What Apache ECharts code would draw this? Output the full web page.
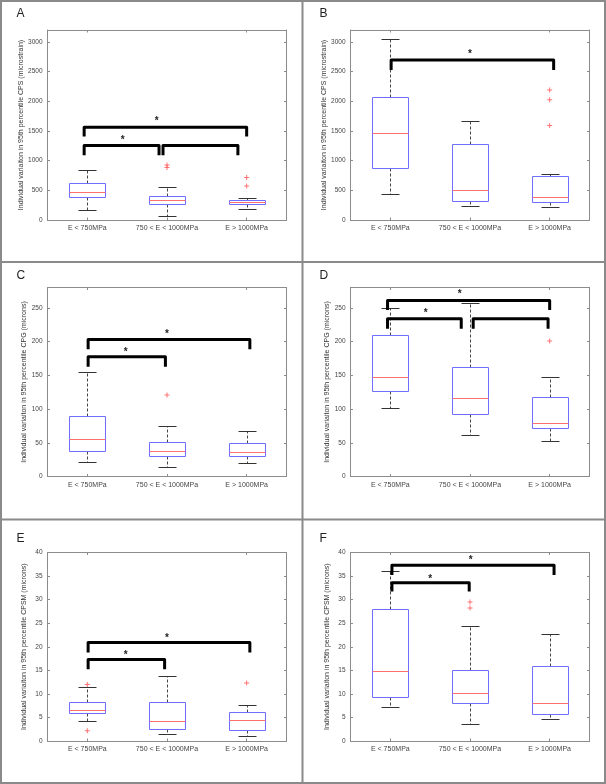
<!DOCTYPE html>
<html>
<head>
<meta charset="utf-8">
<script src="https://cdn.jsdelivr.net/npm/echarts@6.0.0/dist/echarts.min.js"></script>
<style>
  html, body { margin: 0; padding: 0; background: #fff; }
  #chart { width: 606px; height: 784px; }
</style>
</head>
<body>
<div id="chart"></div>
<script>
const categories = ['E < 750MPa', '750 < E < 1000MPa', 'E > 1000MPa'];

// each box: [lower whisker, q1, median, q3, upper whisker]
const boxA = [[163, 388, 478, 630, 838], [68, 265, 338, 400, 551], [180, 276, 310, 343, 377]];
const boxB = [[439, 872, 1469, 2065, 3050], [242, 315, 512, 1272, 1671], [214, 304, 383, 743, 771]];
const boxC = [[21.2, 37.5, 55.7, 90.2, 155.3], [13.8, 31, 38, 51.8, 75.4], [20.2, 31, 37, 49.3, 67.6]];
const boxD = [[101, 127.2, 147.4, 210, 250], [61.1, 93.2, 116.9, 162.2, 256.4], [53.3, 72.5, 78.9, 117.9, 147.4]];
const boxE = [[4.3, 6.0, 6.57, 8.34, 11.4], [1.41, 2.47, 4.17, 8.27, 13.8], [1.13, 2.26, 4.38, 6.15, 7.7]];
const boxF = [[7.2, 9.4, 14.84, 28.1, 36.1], [3.53, 7.99, 10.1, 15.05, 24.3], [4.6, 5.65, 8.06, 15.9, 22.6]];

// outliers: [category index, value]
const outliersA = [[1, 925], [1, 885], [2, 715], [2, 574]];
const outliersB = [[2, 2189], [2, 2026], [2, 1593]];
const outliersC = [[1, 120.8]];
const outliersD = [[2, 200.7]];
const outliersE = [[0, 12.0], [0, 2.2], [2, 12.3]];
const outliersF = [[1, 29.5], [1, 28.2]];

// significance brackets: [from x, to x, bar value, leg end value] (x in category units)
const bracketsA = [[-0.04, 0.9, 1255, 1092], [0.95, 1.89, 1255, 1092], [-0.04, 2.0, 1564, 1407]];
const bracketsB = [[0.01, 2.05, 2696, 2527]];
const bracketsC = [[0.01, 0.98, 177.5, 162.7], [0.01, 2.04, 203, 188.4]];
const bracketsD = [[-0.035, 0.89, 233.7, 219], [1.04, 1.98, 233.7, 219], [-0.035, 2.0, 260.8, 246.5]];
const bracketsE = [[0.01, 0.97, 17.3, 15.2], [0.01, 2.04, 20.9, 18.8]];
const bracketsF = [[0.02, 0.99, 33.6, 31.7], [0.02, 2.055, 37.3, 35.2]];

// asterisks: [x in category units, value]
const starsA = [[0.445, 1384], [0.87, 1700]];
const starsB = [[1.0, 2831]];
const starsC = [[0.48, 187.4], [1.0, 213]];
const starsD = [[0.445, 245], [0.87, 272.7]];
const starsE = [[0.48, 18.6], [1.0, 22.3]];
const starsF = [[0.5, 34.8], [1.01, 38.7]];

const yMaxCPS = 3200, yStepCPS = 500;
const yMaxCPG = 280, yStepCPG = 50;
const yMaxCPSM = 40, yStepCPSM = 5;

const nameCPS = 'Individual variaiton in 95th percentile CPS (microstrain)';
const nameCPG = 'Individual variaiton in 95th percentile CPG (microns)';
const nameCPSM = 'Individual variaiton in 95th percentile CPSM (microns)';

const panels = [
  { letter: 'A', box: boxA, outliers: outliersA, brackets: bracketsA, stars: starsA, yMax: yMaxCPS, yStep: yStepCPS, yName: nameCPS },
  { letter: 'B', box: boxB, outliers: outliersB, brackets: bracketsB, stars: starsB, yMax: yMaxCPS, yStep: yStepCPS, yName: nameCPS },
  { letter: 'C', box: boxC, outliers: outliersC, brackets: bracketsC, stars: starsC, yMax: yMaxCPG, yStep: yStepCPG, yName: nameCPG },
  { letter: 'D', box: boxD, outliers: outliersD, brackets: bracketsD, stars: starsD, yMax: yMaxCPG, yStep: yStepCPG, yName: nameCPG },
  { letter: 'E', box: boxE, outliers: outliersE, brackets: bracketsE, stars: starsE, yMax: yMaxCPSM, yStep: yStepCPSM, yName: nameCPSM },
  { letter: 'F', box: boxF, outliers: outliersF, brackets: bracketsF, stars: starsF, yMax: yMaxCPSM, yStep: yStepCPSM, yName: nameCPSM }
];

// layout of the six plot areas
const colLeft = [47.5, 350.5];
const rowTop = [30, 287.5, 552.5];
const rowHeight = [190, 189, 188.5];
const letterTop = [8, 270, 533];
const plotWidth = 239;

const BOX_W = 0.464;
const BLUE = '#6f6fff';
const RED = '#ff7070';
const AXIS = '#8c8c8c';
const FONT = 'Liberation Sans, Arial, sans-serif';

function renderBox(params, api) {
  const x = api.value(0);
  const lo = api.coord([x, api.value(1)]);
  const q1 = api.coord([x, api.value(2)]);
  const med = api.coord([x, api.value(3)]);
  const q3 = api.coord([x, api.value(4)]);
  const hi = api.coord([x, api.value(5)]);
  const half = Math.round(api.size([BOX_W, 0])[0] / 2);
  const cap = Math.round(half / 2);
  const cx = Math.round(lo[0]) + 0.5;
  const r = v => Math.round(v) + 0.5;
  const dashed = { stroke: '#444', lineWidth: 1, lineDash: [3, 2] };
  const solid = { stroke: '#333', lineWidth: 1 };
  return {
    type: 'group',
    children: [
      { type: 'line', shape: { x1: cx, y1: r(q3[1]), x2: cx, y2: r(hi[1]) }, style: dashed },
      { type: 'line', shape: { x1: cx, y1: r(q1[1]), x2: cx, y2: r(lo[1]) }, style: dashed },
      { type: 'line', shape: { x1: cx - cap, y1: r(hi[1]), x2: cx + cap, y2: r(hi[1]) }, style: solid },
      { type: 'line', shape: { x1: cx - cap, y1: r(lo[1]), x2: cx + cap, y2: r(lo[1]) }, style: solid },
      { type: 'rect', shape: { x: cx - half, y: r(q3[1]), width: half * 2, height: r(q1[1]) - r(q3[1]) },
        style: { fill: 'none', stroke: BLUE, lineWidth: 1 } },
      { type: 'line', shape: { x1: cx - half, y1: r(med[1]), x2: cx + half, y2: r(med[1]) },
        style: { stroke: RED, lineWidth: 1 } }
    ]
  };
}

function renderBracket(params, api) {
  const a = api.coord([api.value(0), api.value(3)]);
  const b = api.coord([api.value(0), api.value(2)]);
  const c = api.coord([api.value(1), api.value(2)]);
  const d = api.coord([api.value(1), api.value(3)]);
  return {
    type: 'polyline',
    shape: { points: [a, b, c, d] },
    style: { fill: 'none', stroke: '#000', lineWidth: 3, lineJoin: 'round', lineCap: 'butt' }
  };
}

function renderStar(params, api) {
  const p = api.coord([api.value(0), api.value(1)]);
  return {
    type: 'text',
    x: p[0],
    y: p[1] + 2,
    style: { text: '*', fontSize: 10, fontFamily: FONT, fontWeight: 'bold', fill: '#222', align: 'center', verticalAlign: 'middle' }
  };
}

const grid = [], xAxis = [], yAxis = [], series = [], title = [];

panels.forEach((p, i) => {
  const col = i % 2, row = Math.floor(i / 2);
  grid.push({ left: colLeft[col], top: rowTop[row], width: plotWidth, height: rowHeight[row], outerBoundsMode: 'none' });
  title.push({
    text: p.letter, left: colLeft[col] - 31, top: letterTop[row], padding: 0,
    textStyle: { fontSize: 12, fontWeight: 'normal', color: '#222', fontFamily: FONT }
  });

  const tick = { show: true, inside: true, length: 2.5, lineStyle: { color: AXIS } };
  const line = { show: true, onZero: false, lineStyle: { color: AXIS, width: 1 } };
  xAxis.push({
    type: 'category', gridIndex: i, position: 'bottom', data: categories,
    axisLine: line, axisTick: Object.assign({ alignWithLabel: true }, tick),
    axisLabel: { interval: 0, fontSize: 7, color: '#444', margin: 5, fontFamily: FONT },
    splitLine: { show: false }
  });
  xAxis.push({
    type: 'category', gridIndex: i, position: 'top', data: categories,
    axisLine: line, axisTick: Object.assign({ alignWithLabel: true }, tick),
    axisLabel: { show: false }, splitLine: { show: false }
  });
  xAxis.push({ type: 'value', gridIndex: i, min: -0.5, max: 2.5, show: false, axisLine: { onZero: false } });

  yAxis.push({
    type: 'value', gridIndex: i, position: 'left', min: 0, max: p.yMax, interval: p.yStep,
    axisLine: line, axisTick: tick, splitLine: { show: false },
    axisLabel: {
      fontSize: 6.5, color: '#444', margin: 5, fontFamily: FONT,
      formatter: v => (v % p.yStep === 0 ? String(v) : '')
    },
    name: p.yName, nameLocation: 'middle', nameGap: 20,
    nameTextStyle: { fontSize: 7, color: '#333', fontFamily: FONT }
  });
  yAxis.push({
    type: 'value', gridIndex: i, position: 'right', min: 0, max: p.yMax, interval: p.yStep,
    axisLine: line, axisTick: tick, splitLine: { show: false }, axisLabel: { show: false }
  });

  const xi = i * 3 + 2, yi = i * 2;
  series.push({
    type: 'custom', xAxisIndex: xi, yAxisIndex: yi, renderItem: renderBox,
    encode: { x: 0, y: [1, 2, 3, 4, 5] },
    data: p.box.map((b, k) => [k].concat(b)), silent: true
  });
  series.push({
    type: 'scatter', xAxisIndex: xi, yAxisIndex: yi, data: p.outliers,
    symbol: 'path://M2,0H3V2H5V3H3V5H2V3H0V2H2Z', symbolSize: 5,
    itemStyle: { color: '#ff4d4d' }, silent: true
  });
  series.push({
    type: 'custom', xAxisIndex: xi, yAxisIndex: yi, renderItem: renderBracket,
    encode: { x: [0, 1], y: [2, 3] }, data: p.brackets, silent: true
  });
  series.push({
    type: 'custom', xAxisIndex: xi, yAxisIndex: yi, renderItem: renderStar,
    encode: { x: 0, y: 1 }, data: p.stars, silent: true
  });
});

const FRAME = '#8a8a8a';
const chart = echarts.init(document.getElementById('chart'));
chart.setOption({
  animation: false,
  backgroundColor: '#fff',
  title: title,
  grid: grid,
  xAxis: xAxis,
  yAxis: yAxis,
  series: series,
  graphic: [
    { type: 'rect', shape: { x: 1, y: 1, width: 604, height: 782 }, style: { fill: 'none', stroke: FRAME, lineWidth: 2 } },
    { type: 'line', shape: { x1: 302.5, y1: 0, x2: 302.5, y2: 784 }, style: { stroke: FRAME, lineWidth: 2 } },
    { type: 'line', shape: { x1: 0, y1: 262, x2: 606, y2: 262 }, style: { stroke: FRAME, lineWidth: 2 } },
    { type: 'line', shape: { x1: 0, y1: 519.5, x2: 606, y2: 519.5 }, style: { stroke: FRAME, lineWidth: 2 } }
  ]
});
</script>
</body>
</html>
